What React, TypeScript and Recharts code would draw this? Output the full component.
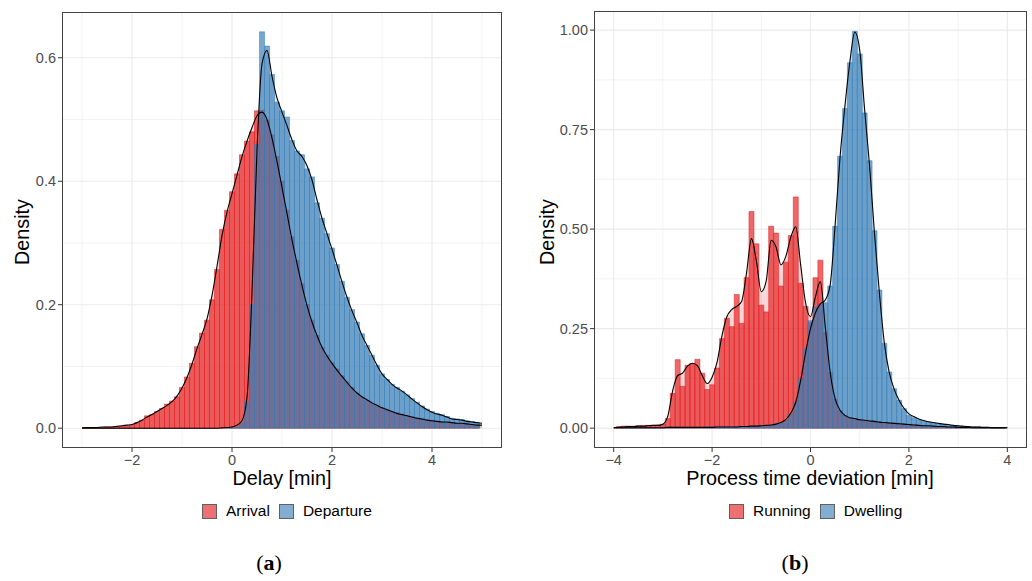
import React from 'react';
import { ComposedChart, Bar, Line, Area, XAxis, YAxis, CartesianGrid } from 'recharts';

const RED = '#E41A1C';
const BLUE = '#377EB8';
const SANS = '"Liberation Sans", Arial, sans-serif';

// (a) delay histograms, 0.1 min bins centred on -2.9 ... 4.9
const arrivalHist = [
  0.001, 0.001, 0.001, 0.001, 0.002, 0.002, 0.002, 0.003, 0.004, 0.005,
  0.009, 0.013, 0.02, 0.022, 0.027, 0.032, 0.039, 0.044, 0.051, 0.066,
  0.083, 0.105, 0.132, 0.154, 0.175, 0.208, 0.257, 0.322, 0.353, 0.383,
  0.412, 0.443, 0.465, 0.48, 0.514, 0.515, 0.499, 0.475, 0.44, 0.4,
  0.353, 0.31, 0.272, 0.234, 0.2, 0.175, 0.15, 0.131, 0.118, 0.106,
  0.096, 0.085, 0.075, 0.066, 0.057, 0.05, 0.045, 0.04, 0.036, 0.033,
  0.03, 0.027, 0.025, 0.023, 0.021, 0.019, 0.017, 0.015, 0.014, 0.012,
  0.011, 0.01, 0.01, 0.009, 0.008, 0.008, 0.007, 0.006, 0.005,
];
const departureHist = [
  0, 0, 0, 0, 0, 0, 0, 0, 0, 0,
  0, 0, 0, 0, 0, 0, 0, 0, 0, 0,
  0, 0, 0, 0, 0, 0, 0, 0, 0.001, 0.001,
  0.002, 0.008, 0.043, 0.2, 0.46, 0.642, 0.619, 0.573, 0.528, 0.514,
  0.504, 0.466, 0.449, 0.443, 0.42, 0.407, 0.365, 0.34, 0.315, 0.292,
  0.265, 0.238, 0.212, 0.192, 0.172, 0.153, 0.134, 0.118, 0.102, 0.088,
  0.079, 0.071, 0.066, 0.06, 0.054, 0.048, 0.042, 0.036, 0.031, 0.027,
  0.024, 0.022, 0.019, 0.016, 0.015, 0.014, 0.012, 0.011, 0.009,
];
// density curves sampled every 0.1 min from -3 to 5
const arrivalDensity = [
  0.0005, 0.001, 0.001, 0.001, 0.002, 0.002, 0.002, 0.003, 0.004, 0.005,
  0.006, 0.009, 0.013, 0.018, 0.022, 0.027, 0.032, 0.037, 0.043, 0.052,
  0.065, 0.082, 0.104, 0.129, 0.152, 0.177, 0.215, 0.262, 0.312, 0.35,
  0.38, 0.41, 0.44, 0.465, 0.487, 0.506, 0.512, 0.5, 0.47, 0.432,
  0.39, 0.348, 0.305, 0.267, 0.231, 0.199, 0.172, 0.15, 0.131, 0.117,
  0.105, 0.094, 0.084, 0.074, 0.065, 0.057, 0.051, 0.046, 0.041, 0.037,
  0.033, 0.03, 0.027, 0.024, 0.022, 0.02, 0.018, 0.016, 0.015, 0.013,
  0.012, 0.011, 0.01, 0.01, 0.009, 0.008, 0.008, 0.007, 0.006, 0.005,
  0.005,
];
const departureDensity = [
  0, 0, 0, 0, 0, 0, 0, 0, 0, 0,
  0, 0, 0, 0, 0, 0, 0, 0, 0, 0,
  0, 0, 0, 0, 0, 0, 0, 0, 0.0005, 0.001,
  0.002, 0.005, 0.012, 0.05, 0.22, 0.45, 0.59, 0.612, 0.57, 0.535,
  0.512, 0.49, 0.467, 0.449, 0.44, 0.425, 0.402, 0.37, 0.34, 0.315,
  0.29, 0.264, 0.237, 0.212, 0.19, 0.171, 0.15, 0.134, 0.118, 0.102,
  0.088, 0.079, 0.071, 0.065, 0.06, 0.054, 0.047, 0.041, 0.035, 0.03,
  0.026, 0.023, 0.021, 0.018, 0.015, 0.014, 0.013, 0.011, 0.01, 0.009,
  0.008,
];

// (b) process time deviation, bins centred on -3.9 ... 3.9
const runningHist = [
  0.004, 0.005, 0.005, 0.005, 0.006, 0.006, 0.007, 0.007, 0.008, 0.01,
  0.024, 0.087, 0.172, 0.105, 0.158, 0.162, 0.173, 0.138, 0.097, 0.109,
  0.151, 0.225, 0.276, 0.255, 0.336, 0.263, 0.378, 0.544, 0.463, 0.309,
  0.292, 0.507, 0.49, 0.357, 0.417, 0.484, 0.581, 0.364, 0.306, 0.265,
  0.378, 0.422, 0.24, 0.14, 0.072, 0.044, 0.032, 0.026, 0.023, 0.021,
  0.02, 0.018, 0.017, 0.015, 0.014, 0.013, 0.012, 0.011, 0.01, 0.009,
  0.008, 0.007, 0.006, 0.006, 0.005, 0.004, 0.004, 0.003, 0.003, 0.002,
  0.002, 0.002, 0.002, 0.001, 0.001, 0.001, 0.001, 0.001, 0.001,
];
const dwellingHist = [
  0.001, 0.001, 0.001, 0.001, 0.001, 0.001, 0.001, 0.001, 0.001, 0.002,
  0.002, 0.002, 0.002, 0.002, 0.002, 0.002, 0.002, 0.002, 0.003, 0.003,
  0.003, 0.003, 0.003, 0.003, 0.004, 0.004, 0.004, 0.005, 0.005, 0.006,
  0.007, 0.008, 0.01, 0.013, 0.018, 0.035, 0.065, 0.124, 0.2, 0.27,
  0.305, 0.31, 0.315, 0.357, 0.507, 0.683, 0.803, 0.918, 0.997, 0.94,
  0.792, 0.672, 0.496, 0.347, 0.213, 0.141, 0.099, 0.07, 0.049, 0.032,
  0.026, 0.021, 0.017, 0.015, 0.013, 0.011, 0.009, 0.008, 0.007, 0.005,
  0.004, 0.004, 0.003, 0.003, 0.002, 0.002, 0.001, 0.001, 0.001,
];
// density curves sampled every 0.1 min from -4 to 4
const runningDensity = [
  0.001, 0.002, 0.003, 0.004, 0.004, 0.005, 0.005, 0.006, 0.007, 0.007,
  0.01, 0.03, 0.095, 0.132, 0.138, 0.156, 0.163, 0.157, 0.132, 0.112,
  0.128, 0.165, 0.232, 0.28, 0.298, 0.306, 0.318, 0.39, 0.476, 0.42,
  0.343, 0.37, 0.472, 0.455, 0.41, 0.432, 0.48, 0.506, 0.41, 0.315,
  0.28, 0.33, 0.368, 0.255, 0.14, 0.074, 0.045, 0.032, 0.026, 0.024,
  0.021, 0.02, 0.018, 0.017, 0.015, 0.014, 0.013, 0.012, 0.011, 0.01,
  0.009, 0.008, 0.007, 0.006, 0.006, 0.005, 0.004, 0.004, 0.003, 0.003,
  0.002, 0.002, 0.002, 0.001, 0.001, 0.001, 0.001, 0.001, 0.001, 0.001,
  0.001,
];
const dwellingDensity = [
  0.0005, 0.001, 0.001, 0.001, 0.001, 0.001, 0.001, 0.001, 0.001, 0.001,
  0.001, 0.002, 0.002, 0.002, 0.002, 0.002, 0.002, 0.002, 0.002, 0.002,
  0.002, 0.003, 0.003, 0.003, 0.003, 0.003, 0.004, 0.004, 0.005, 0.005,
  0.006, 0.007, 0.008, 0.01, 0.014, 0.022, 0.038, 0.065, 0.12, 0.19,
  0.25, 0.29, 0.312, 0.322, 0.36, 0.51, 0.68, 0.81, 0.92, 0.995,
  0.95, 0.8, 0.66, 0.49, 0.34, 0.215, 0.14, 0.098, 0.07, 0.05,
  0.036, 0.029, 0.023, 0.019, 0.016, 0.014, 0.012, 0.01, 0.009, 0.007,
  0.006, 0.005, 0.004, 0.003, 0.003, 0.002, 0.002, 0.001, 0.001, 0.001,
  0.001,
];

const delayTicks = [-2, 0, 2, 4];
const delayMinor = [-3, -1, 1, 3, 5];
const delayDensityTicks = [0, 0.2, 0.4, 0.6];
const delayDensityMinor = [0.1, 0.3, 0.5];

const processTicks = [-4, -2, 0, 2, 4];
const processMinor = [-3, -1, 1, 3];
const processDensityTicks = [0, 0.25, 0.5, 0.75, 1];
const processDensityMinor = [0.125, 0.375, 0.625, 0.875];

function buildRows(start: number, h1: number[], h2: number[], d1: number[], d2: number[]) {
  return d1.map((d, i) => ({
    x: Math.round((start + i * 0.1) * 10) / 10,
    h1: i > 0 && i <= h1.length ? h1[i - 1] : null,
    h2: i > 0 && i <= h2.length ? h2[i - 1] : null,
    d1: d,
    d2: d2[i],
  }));
}

const delayRows = buildRows(-3, arrivalHist, departureHist, arrivalDensity, departureDensity);
const processRows = buildRows(-4, runningHist, dwellingHist, runningDensity, dwellingDensity);

const minus = (v: number) => (v < 0 ? '\u2212' + Math.abs(v) : String(v));

type PanelProps = {
  rows: ReturnType<typeof buildRows>;
  width: number;
  marginRight: number;
  marginTop: number;
  xDomain: [number, number];
  xTicks: number[];
  xMinor: number[];
  yDomain: [number, number];
  yTicks: number[];
  yMinor: number[];
  yDigits: number;
};

function Panel(p: PanelProps) {
  const axisTick = { fontSize: 14.5, fill: '#4D4D4D', fontFamily: SANS };
  return (
    <ComposedChart
      width={p.width}
      height={472}
      data={p.rows}
      margin={{ top: p.marginTop, right: p.marginRight, bottom: 0, left: 0 }}
      barCategoryGap={0}
      barGap={0}
    >
      <CartesianGrid xAxisId="main" stroke="#EBEBEB" strokeWidth={0.6}
        horizontalValues={p.yMinor} verticalValues={p.xMinor} />
      <CartesianGrid xAxisId="main" stroke="#EBEBEB" strokeWidth={1.1}
        horizontalValues={p.yTicks} verticalValues={p.xTicks} />
      <XAxis xAxisId="main" type="number" dataKey="x" domain={p.xDomain} ticks={p.xTicks}
        allowDataOverflow interval={0} tickFormatter={minus} tickSize={4} tickMargin={3}
        tickLine={{ stroke: '#333' }} axisLine={false} tick={axisTick} height={24} />
      {/* second, hidden x axis so the two histograms overlap instead of sitting side by side */}
      <XAxis xAxisId="alt" type="number" dataKey="x" domain={p.xDomain} allowDataOverflow
        hide orientation="top" height={0} />
      <YAxis type="number" domain={p.yDomain} ticks={p.yTicks} allowDataOverflow interval={0}
        tickFormatter={(v: number) => v.toFixed(p.yDigits)} tickSize={4} tickMargin={2}
        tickLine={{ stroke: '#333' }} axisLine={false} tick={axisTick} width={62} />
      <Area xAxisId="main" dataKey="d1" type="monotone" stroke="none" fill={RED} fillOpacity={0.18} isAnimationActive={false} />
      <Area xAxisId="main" dataKey="d2" type="monotone" stroke="none" fill={BLUE} fillOpacity={0.18} isAnimationActive={false} />
      <Bar xAxisId="main" dataKey="h1" fill={RED} fillOpacity={0.66} stroke={RED} strokeOpacity={0.85} strokeWidth={0.6} isAnimationActive={false} />
      <Bar xAxisId="alt" dataKey="h2" fill={BLUE} fillOpacity={0.68} stroke={BLUE} strokeOpacity={0.85} strokeWidth={0.6} isAnimationActive={false} />
      <Line xAxisId="main" dataKey="d1" type="monotone" stroke="#000" strokeWidth={1.1} dot={false} isAnimationActive={false} />
      <Line xAxisId="main" dataKey="d2" type="monotone" stroke="#000" strokeWidth={1.1} dot={false} isAnimationActive={false} />
    </ComposedChart>
  );
}

function LegendItem({ color, label }: { color: string; label: string }) {
  return (
    <div style={{ display: 'flex', alignItems: 'center', marginRight: 9 }}>
      <div style={{
        width: 13, height: 13, background: color, opacity: 0.62,
        border: '1.2px solid #000', boxSizing: 'content-box', marginRight: 9,
      }} />
      <span style={{ fontFamily: SANS, fontSize: 15.5, color: '#000' }}>{label}</span>
    </div>
  );
}

const abs = (left: number, top: number): React.CSSProperties => ({ position: 'absolute', left, top });
const titleFont: React.CSSProperties = { fontFamily: SANS, fontSize: 19.8, lineHeight: '24px', textAlign: 'center' };

export default function App() {
  return (
    <div style={{ position: 'absolute', left: 0, top: 0, width: 1032, height: 581, background: '#fff', overflow: 'hidden' }}>
      <div style={abs(0, 0)}>
        <Panel rows={delayRows} width={516} marginRight={14} marginTop={12}
          xDomain={[-3.4, 5.4]} xTicks={delayTicks} xMinor={delayMinor}
          yDomain={[-0.0321, 0.6741]} yTicks={delayDensityTicks} yMinor={delayDensityMinor} yDigits={1} />
      </div>
      <div style={abs(532, 0)}>
        <Panel rows={processRows} width={500} marginRight={5} marginTop={11}
          xDomain={[-4.4, 4.4]} xTicks={processTicks} xMinor={processMinor}
          yDomain={[-0.0499, 1.048]} yTicks={processDensityTicks} yMinor={processDensityMinor} yDigits={2} />
      </div>

      {/* panel borders */}
      <div style={{ ...abs(62, 12), width: 440, height: 436, border: '1px solid #444', boxSizing: 'border-box', pointerEvents: 'none' }} />
      <div style={{ ...abs(594, 11), width: 433, height: 437, border: '1px solid #444', boxSizing: 'border-box', pointerEvents: 'none' }} />

      {/* axis titles */}
      <div style={{ ...abs(22 - 50, 232 - 12), width: 100, height: 24, transform: 'rotate(-90deg)', ...titleFont }}>Density</div>
      <div style={{ ...abs(547 - 50, 232 - 12), width: 100, height: 24, transform: 'rotate(-90deg)', ...titleFont }}>Density</div>
      <div style={{ ...abs(182, 466), width: 200, ...titleFont }}>Delay [min]</div>
      <div style={{ ...abs(650, 466), width: 320, ...titleFont }}>Process time deviation [min]</div>

      {/* legends */}
      <div style={{ ...abs(202, 500), display: 'flex', height: 22, alignItems: 'center' }}>
        <LegendItem color={RED} label="Arrival" />
        <LegendItem color={BLUE} label="Departure" />
      </div>
      <div style={{ ...abs(729, 500), display: 'flex', height: 22, alignItems: 'center' }}>
        <LegendItem color={RED} label="Running" />
        <LegendItem color={BLUE} label="Dwelling" />
      </div>

      {/* sub-figure tags */}
      <div style={{ ...abs(219, 550), width: 100, textAlign: 'center', fontFamily: '"Liberation Serif", "DejaVu Serif", serif', fontSize: 22 }}>
        (<b>a</b>)
      </div>
      <div style={{ ...abs(745, 550), width: 100, textAlign: 'center', fontFamily: '"Liberation Serif", "DejaVu Serif", serif', fontSize: 22 }}>
        (<b>b</b>)
      </div>
    </div>
  );
}
